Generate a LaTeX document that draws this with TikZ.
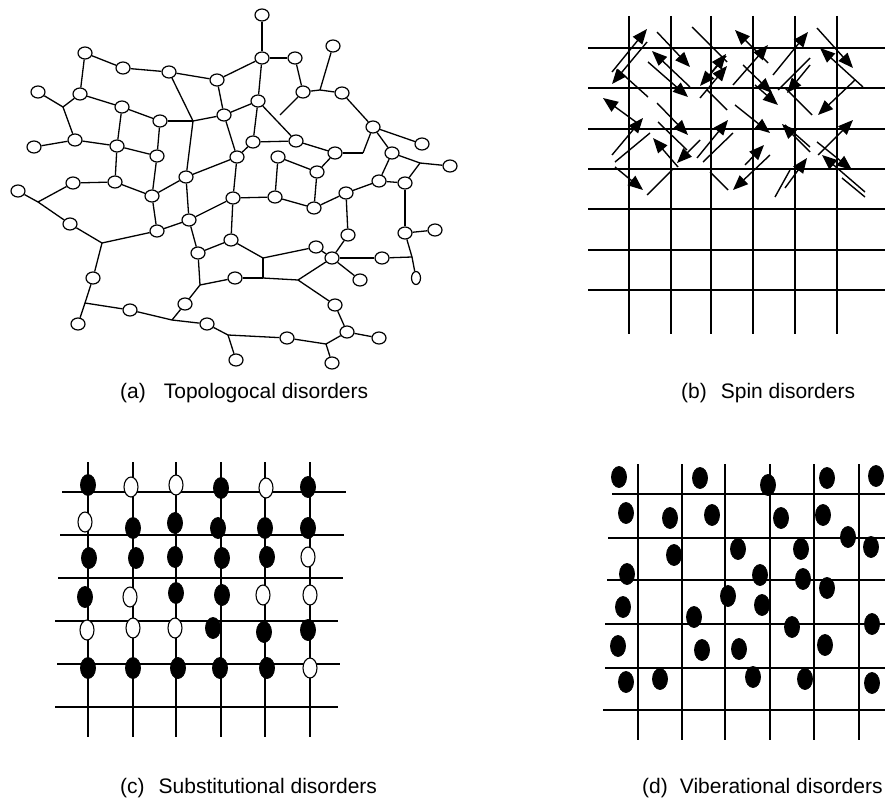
\documentclass[tikz,border=0pt]{standalone}
\usepackage{fontspec}
\setmainfont{Liberation Sans}
\usetikzlibrary{shapes.geometric,arrows.meta}
\begin{document}
\begin{tikzpicture}[x=1pt,y=-1pt,
  atom/.style={draw,ellipse,minimum width=14pt,minimum height=12pt,inner sep=0pt,line width=1.2pt},
  smallatom/.style={atom,minimum width=9pt,minimum height=13pt},
  bond/.style={line width=1.3pt},
  gline/.style={line width=1.5pt},
  spin/.style={line width=1.4pt,-{Triangle[length=15pt,width=12pt]}},
  spinline/.style={line width=1.4pt},
  bdot/.style={draw,ellipse,fill=black,minimum width=15pt,minimum height=21pt,inner sep=0pt,line width=0.8pt},
  wdot/.style={draw,ellipse,fill=white,minimum width=14pt,minimum height=20pt,inner sep=0pt,line width=1.1pt},
  lbl/.style={anchor=base west,font=\fontsize{21}{24}\selectfont,inner sep=0pt}
]
\useasboundingbox[fill=white] (0,0) rectangle (885,800);

% ---------------- (a) topological disorder ----------------
\foreach \n/\x/\y in {n1/85/53,n2/123/68,n3/169/72,n4/217/80,n5/38/92,n6/80/94,n7/122/107,n8/160/121,
  n9/224/115,n10/75/140,n11/34/147,n12/117/146,n13/157/156,n14/186/177,n15/73/183,n16/115/182,
  n17/18/191,n18/152/196,n19/70/224,n20/157/231,n21/189/220,n22/198/253,n23/93/278,n24/130/310,
  n25/78/324,n26/185/304,n27/207/324,n28/262/15,n29/262/58,n30/295/58,n31/333/46,n32/303/92,
  n33/342/93,n34/258/101,n35/373/127,n36/422/144,n37/253/142,n38/296/141,n39/335/153,n40/237/157,
  n41/278/157,n42/317/172,n43/392/153,n44/450/166,n45/379/181,n46/405/183,n47/233/198,n48/275/197,
  n49/314/208,n50/346/193,n51/405/233,n52/435/230,n53/348/235,n54/316/247,n55/332/258,n56/382/258,
  n57/360/280,n59/231/240,n60/235/278,n61/335/305,n62/347/332,n63/379/338,n64/287/338,
  n65/236/360,n66/332/363}
  {\node[atom] (\n) at (\x,\y) {};}
\node[smallatom] (n58) at (416,278) {};
\foreach \n/\x/\y in {j1/63/107,j2/193/121,j3/320/90,j4/280/115,j5/363/153,j6/420/163,j7/38/202,
  j8/102/243,j9/200/285,j10/85/303,j11/172/320,j12/263/258,j13/263/278,j14/298/280,j15/412/257,
  j16/228/335,j17/326/344}
  {\coordinate (\n) at (\x,\y);}
\foreach \a/\b in {n1/n2,n1/n6,n2/n3,n3/n4,n3/j2,n4/n29,n4/n9,j1/n5,j1/n6,j1/n10,n6/n7,n7/n8,n7/n12,
  n8/j2,j2/n9,j2/n14,n10/n11,n10/n12,n12/n13,n8/n13,n13/n18,n12/n16,n15/n16,n14/n18,n14/n40,n9/n34,
  n9/n40,n16/n18,n18/n20,n20/n21,n14/n21,n21/n47,n21/n22,n22/n59,n22/j9,j9/n60,j9/n26,n26/j11,
  j11/n24,j11/n27,n24/j10,j10/n25,j10/n23,n23/j8,j8/n19,j8/n20,j7/n17,j7/n15,j7/n19,n27/j16,
  n28/n29,n29/n30,n29/n34,n30/n32,n32/j3,j3/n33,j3/n31,n32/j4,n34/n38,n34/n37,n37/n38,n37/n40,
  n38/n39,n39/j5,j5/n35,n33/n35,n35/n36,n35/n43,n43/n45,n43/j6,j6/n44,j6/n46,n45/n46,n39/n42,
  n41/n42,n41/n48,n42/n49,n40/n47,n47/n48,n48/n49,n49/n50,n50/n45,n50/n53,n46/n51,n51/n52,
  n51/j15,j15/n58,j15/n56,n56/n55,n53/n55,n54/n55,n55/n57,n55/j14,j12/n54,j12/n59,j12/j13,
  j13/n60,j13/j14,j14/n61,n61/n62,n62/n63,n62/j17,j17/n66,j17/n64,n64/j16,j16/n65,n47/n59}
  {\draw[bond] (\a) -- (\b);}

% ---------------- (b) spin disorder ----------------
\foreach \x in {629,671,711,753,795,837} {\draw[gline] (\x,16) -- (\x,334);}
\foreach \y in {48,88,129,169,209,250,290} {\draw[gline] (588,\y) -- (885,\y);}
\foreach \xa/\ya/\xb/\yb in {612/72/647/29,647/42/612/84,657/32/690/67,690/87/652/51,648/62/688/97,
  700/98/727/66,704/82/726/54,726/56/700/86,768/63/735/30,733/85/768/45,773/75/808/32,743/65/772/93,
  817/28/853/68,863/87/820/48,855/80/818/115,810/65/787/93,640/125/603/98,612/155/643/118,
  615/167/643/190,678/167/653/138,657/103/688/135,735/105/770/133,697/158/728/120,770/155/733/190,
  818/155/853/120,865/192/822/155,785/188/807/158,817/142/852/170,700/140/677/163,745/165/764/145,
  810/152/782/124,755/85/778/105}
  {\draw[spin] (\xa,\ya) -- (\xb,\yb);}
\foreach \xa/\ya/\xb/\yb in {618/70/648/97,692/27/727/62,707/90/727/110,778/90/810/58,785/88/812/115,
  615/162/650/133,647/195/672/170,658/122/687/150,703/162/733/133,710/172/728/190,790/170/775/197,
  865/197/842/178,785/125/810/147}
  {\draw[spinline] (\xa,\ya) -- (\xb,\yb);}

% ---------------- (c) substitutional disorder ----------------
\foreach \x in {88,133,176,221,265,310} {\draw[gline] (\x,462) -- (\x,737);}
\foreach \y/\xa/\xb in {492/62/346,535/60/344,578/58/343,621/55/338,664/57/340,707/55/338}
  {\draw[gline] (\xa,\y) -- (\xb,\y);}
\foreach \i/\x/\y/\t in {1/88/485/b,2/131/487/w,3/176/485/w,4/221/488/b,5/266/488/w,6/308/487/b,
  7/85/522/w,8/133/528/b,9/175/523/b,10/218/528/b,11/265/528/b,12/308/528/b,
  13/89/558/b,14/136/558/b,15/175/557/b,16/222/558/b,17/267/557/b,18/308/557/w,
  19/85/597/b,20/130/597/w,21/176/593/b,22/222/595/b,23/263/595/w,24/310/595/w,
  25/87/630/w,26/133/628/w,27/175/628/w,28/213/628/b,29/264/632/b,30/308/630/b,
  31/88/668/b,32/133/668/b,33/178/668/b,34/220/668/b,35/267/668/b,36/310/668/w}
  {\node[\t dot] (c\i) at (\x,\y) {};}

% ---------------- (d) vibrational disorder ----------------
\foreach \x in {638,682,725,770,814,859} {\draw[gline] (\x,464) -- (\x,740);}
\foreach \y/\xa in {494/612,538/608,580/607,624/605,668/605,710/603}
  {\draw[gline] (\xa,\y) -- (885,\y);}
\foreach \i/\x/\y in {1/619/477,2/700/478,3/768/485,4/827/478,5/876/476,6/626/513,7/670/518,
  8/712/515,9/781/518,10/823/515,11/848/537,12/871/547,13/674/555,14/738/549,15/801/549,
  16/627/574,17/760/575,18/803/579,19/827/588,20/728/596,21/762/605,22/623/607,23/694/617,
  24/792/627,25/872/624,26/618/646,27/702/650,28/739/649,29/825/645,30/626/682,31/660/679,
  32/753/677,33/805/679,34/872/683}
  {\node[bdot] (d\i) at (\x,\y) {};}

% ---------------- captions ----------------
\node[lbl] (la) at (120,398) {(a)\hspace{18pt}Topologocal disorders};
\node[lbl] (lb) at (681,398) {(b)\hspace{14pt}Spin disorders};
\node[lbl] (lc) at (120,793) {(c)\hspace{14pt}Substitutional disorders};
\node[lbl] (ld) at (642,793) {(d)\hspace{12pt}Viberational disorders};
\end{tikzpicture}
\end{document}
